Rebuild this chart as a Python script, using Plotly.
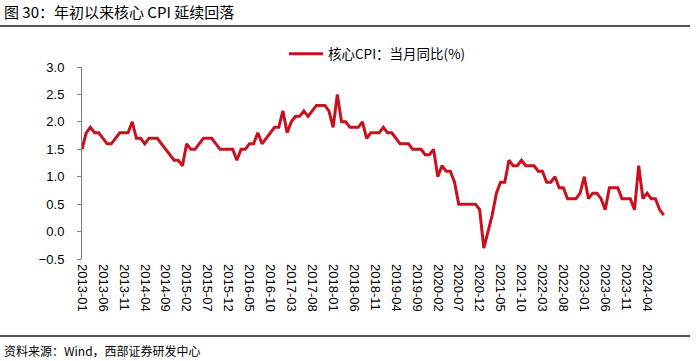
import plotly.graph_objects as go
import pandas as pd

# ---- data ----
start_month = "2013-01"
core_cpi_yoy = [
    1.5, 1.8, 1.9, 1.8, 1.8, 1.7, 1.6, 1.6, 1.7, 1.8, 1.8, 1.8,   # 2013
    2.0, 1.7, 1.7, 1.6, 1.7, 1.7, 1.7, 1.6, 1.5, 1.4, 1.3, 1.3,   # 2014
    1.2, 1.6, 1.5, 1.5, 1.6, 1.7, 1.7, 1.7, 1.6, 1.5, 1.5, 1.5,   # 2015
    1.5, 1.3, 1.5, 1.5, 1.6, 1.6, 1.8, 1.6, 1.7, 1.8, 1.9, 1.9,   # 2016
    2.2, 1.8, 2.0, 2.1, 2.1, 2.2, 2.1, 2.2, 2.3, 2.3, 2.3, 2.2,   # 2017
    1.9, 2.5, 2.0, 2.0, 1.9, 1.9, 1.9, 2.0, 1.7, 1.8, 1.8, 1.8,   # 2018
    1.9, 1.8, 1.8, 1.7, 1.6, 1.6, 1.6, 1.5, 1.5, 1.5, 1.4, 1.4,   # 2019
    1.5, 1.0, 1.2, 1.1, 1.1, 0.9, 0.5, 0.5, 0.5, 0.5, 0.5, 0.4,   # 2020
    -0.3, 0.0, 0.3, 0.7, 0.9, 0.9, 1.3, 1.2, 1.2, 1.3, 1.2, 1.2,  # 2021
    1.2, 1.1, 1.1, 0.9, 0.9, 1.0, 0.8, 0.8, 0.6, 0.6, 0.6, 0.7,   # 2022
    1.0, 0.6, 0.7, 0.7, 0.6, 0.4, 0.8, 0.8, 0.8, 0.6, 0.6, 0.6,   # 2023
    0.4, 1.2, 0.6, 0.7, 0.6, 0.6, 0.4, 0.3,                       # 2024
]
months = [p.strftime("%Y-%m") for p in pd.period_range(start_month, periods=len(core_cpi_yoy) + 1, freq="M")]
tick_step = 5
y_ticks = [-0.5, 0.0, 0.5, 1.0, 1.5, 2.0, 2.5, 3.0]
series_name = "核心CPI：当月同比(%)"
title_text = "图 30：年初以来核心 CPI 延续回落"
source_text = "资料来源：Wind，西部证券研发中心"

# ---- figure ----
x_idx = list(range(len(core_cpi_yoy)))
n_axis = len(core_cpi_yoy)  # axis extends one month past data
tick_vals = list(range(0, n_axis + 1, tick_step))
tick_text = [months[i] if i < n_axis - 1 else "" for i in tick_vals]

FONT = "Liberation Sans, Arial, Noto Sans CJK SC"
CJK = "Noto Sans CJK SC, Liberation Sans"
RED = "#C8101E"
AXIS = "#808080"

fig = go.Figure()
fig.add_trace(go.Scatter(
    x=x_idx, y=core_cpi_yoy, mode="lines", name=series_name,
    line=dict(color=RED, width=3), showlegend=True,
))

W, H = 700, 361
L, R, T, B = 82, 32, 67, 102
pw, ph = W - L - R, H - T - B

def px_x(px):
    return (px - L) / pw

def px_y(py):
    return (H - B - py) / ph

y_lo, y_hi = y_ticks[0], y_ticks[-1]

fig.update_layout(
    width=W, height=H,
    margin=dict(l=L, r=R, t=T, b=B, pad=0),
    paper_bgcolor="white", plot_bgcolor="white",
    font=dict(family=FONT, size=13, color="#000000"),
    showlegend=True,
    legend=dict(
        orientation="h", x=px_x(284), y=px_y(54), xanchor="left", yanchor="middle",
        font=dict(family=CJK, size=13.5, color="#000000"),
        bgcolor="rgba(0,0,0,0)", itemwidth=34,
    ),
    xaxis=dict(
        range=[0, n_axis], tickmode="array", tickvals=tick_vals, ticktext=tick_text,
        tickangle=90, ticks="", showline=False, showgrid=False, zeroline=False,
        tickfont=dict(family=FONT, size=13, color="#000000"), ticklabelstandoff=4,
        automargin=False,
    ),
    xaxis2=dict(
        overlaying="x", anchor="free", position=(0 - y_lo) / (y_hi - y_lo), side="bottom",
        range=[0, n_axis], tickmode="array", tickvals=tick_vals,
        showticklabels=False, ticks="inside", ticklen=4, tickcolor=AXIS, tickwidth=1,
        showline=True, linecolor=AXIS, linewidth=1, showgrid=False, zeroline=False,
    ),
    yaxis=dict(
        range=[y_lo, y_hi], tickmode="array", tickvals=y_ticks, tickformat=".1f",
        ticks="outside", ticklen=4, tickcolor=AXIS, showline=True, linecolor=AXIS,
        linewidth=1, showgrid=False, zeroline=False, ticklabelstandoff=10,
        tickfont=dict(family=FONT, size=13, color="#000000"), automargin=False,
    ),
    title=dict(
        text=title_text, x=4 / W, xref="container", xanchor="left",
        y=1 - 13 / H, yref="container", yanchor="middle",
        font=dict(family=CJK, size=15, color="#000000"),
    ),
)

fig.add_annotation(
    text=source_text, xref="paper", yref="paper", x=px_x(2), y=px_y(350),
    xanchor="left", yanchor="middle", showarrow=False,
    font=dict(family=CJK, size=12, color="#000000"),
)
fig.add_shape(type="line", xref="paper", yref="paper",
              x0=px_x(0), x1=px_x(690), y0=px_y(26), y1=px_y(26),
              line=dict(color="#555555", width=2))
fig.add_shape(type="line", xref="paper", yref="paper",
              x0=px_x(0), x1=px_x(690), y0=px_y(336), y1=px_y(336),
              line=dict(color="#555555", width=2))

fig.write_html("out.html", config={"displayModeBar": False},
               post_script="document.body.style.margin='0';")
